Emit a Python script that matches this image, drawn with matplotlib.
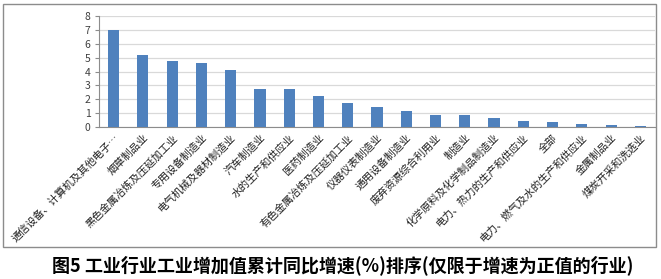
import matplotlib.pyplot as plt
from matplotlib.patches import Rectangle

plt.rcParams['font.family'] = ['Noto Sans CJK SC', 'DejaVu Sans']

industries = ['通信设备、计算机及其他电子…', '烟草制品业', '黑色金属冶炼及压延加工业',
              '专用设备制造业', '电气机械及器材制造业', '汽车制造业', '水的生产和供应业',
              '医药制造业', '有色金属冶炼及压延加工业', '仪器仪表制造业', '通用设备制造业',
              '废弃资源综合利用业', '制造业', '化学原料及化学制品制造业',
              '电力、热力的生产和供应业', '全部', '电力、燃气及水的生产和供应业',
              '金属制品业', '煤炭开采和洗选业']
growth = [7.0, 5.2, 4.75, 4.6, 4.1, 2.75, 2.75, 2.25, 1.7, 1.45, 1.15,
          0.85, 0.85, 0.65, 0.4, 0.35, 0.25, 0.18, 0.08]
yticks = [0, 1, 2, 3, 4, 5, 6, 7, 8]

fig = plt.figure(figsize=(6.61, 2.79), dpi=100)
# outer frame
fig.patches.append(Rectangle((3 / 661, 1 - 247 / 279), 653 / 661, 243 / 279,
                             transform=fig.transFigure, fill=False,
                             edgecolor='#8c8c8c', linewidth=1.0))

ax = fig.add_axes([99 / 661, 1 - 127 / 279, 556 / 661, 111 / 279])
x = range(len(industries))
ax.bar(x, growth, width=0.38, color='#4f81bd', zorder=3)
ax.set_xlim(-0.5, len(industries) - 0.5)
ax.set_ylim(0, 8)
ax.set_yticks(yticks)
ax.set_yticklabels([str(v) for v in yticks], fontsize=7.5, color='#404040')
ax.grid(axis='y', color='#d9d9d9', linewidth=0.9, zorder=0)
ax.set_xticks(list(x))
ax.set_xticklabels(industries, rotation=45, ha='right', rotation_mode='anchor',
                   fontsize=7.6, color='#202020')
ax.tick_params(axis='x', length=0, pad=4)
ax.tick_params(axis='y', length=3, color='#8c8c8c', pad=3)
for s in ['top', 'right']:
    ax.spines[s].set_visible(False)
ax.spines['left'].set_color('#8c8c8c')
ax.spines['bottom'].set_color('#8c8c8c')

fig.text(343 / 661, 1 - 265 / 279, '图5 工业行业工业增加值累计同比增速(%)排序(仅限于增速为正值的行业)',
         ha='center', va='center', fontsize=13.0, fontweight='bold', color='black')

fig.savefig('out.png', dpi=100)
